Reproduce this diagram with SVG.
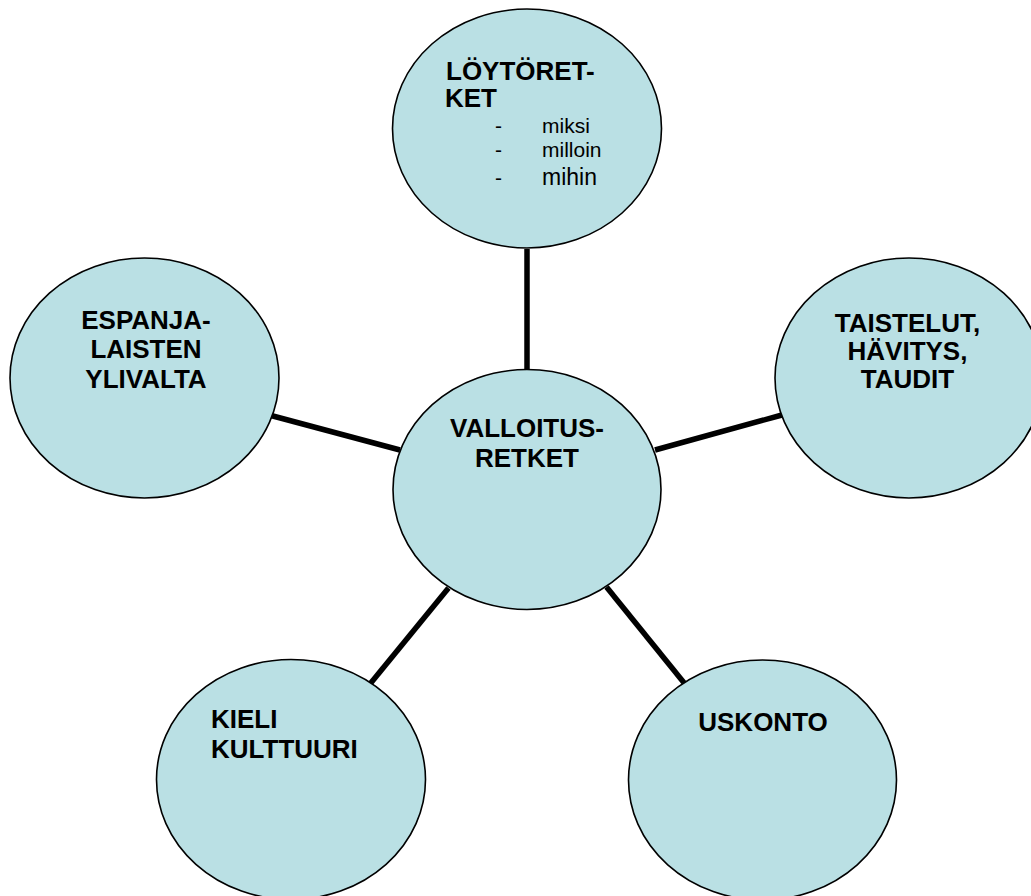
<svg xmlns="http://www.w3.org/2000/svg" width="1031" height="896" viewBox="0 0 1031 896">
<style>
.node{fill:#bae0e4;stroke:#000;stroke-width:1.6}
.conn{stroke:#000;stroke-width:5.5;fill:none}
.h{font-family:"Liberation Sans",Arial,sans-serif;font-weight:bold;font-size:26px;fill:#000}
.c{text-anchor:middle}
.s{font-family:"Liberation Sans",Arial,sans-serif;font-size:21px;fill:#000}
</style>
<rect width="1031" height="896" fill="#fff"/>
<g id="connectors">
<line class="conn" x1="527" y1="249" x2="527" y2="370"/>
<line class="conn" x1="271" y1="415.5" x2="400" y2="450"/>
<line class="conn" x1="655" y1="450" x2="782" y2="415"/>
<line class="conn" x1="448.5" y1="588" x2="370" y2="684"/>
<line class="conn" x1="606.5" y1="587" x2="685" y2="684"/>
</g>
<g id="node-loytoretket">
<ellipse class="node" cx="527" cy="128.5" rx="134.5" ry="119.5"/>
<text class="h" x="446" y="80">LÖYTÖRET-</text>
<text class="h" x="445" y="107">KET</text>
<text class="s" x="495" y="133">-</text>
<text class="s" x="542" y="133">miksi</text>
<text class="s" x="495" y="157">-</text>
<text class="s" x="542" y="157">milloin</text>
<text class="s" x="495" y="185">-</text>
<text class="s" x="542" y="185" style="font-size:23px">mihin</text>
</g>
<g id="node-espanjalaisten">
<ellipse class="node" cx="144.5" cy="378" rx="134.5" ry="120"/>
<text class="h c" x="146" y="329">ESPANJA-</text>
<text class="h c" x="146" y="358">LAISTEN</text>
<text class="h c" x="146" y="388">YLIVALTA</text>
</g>
<g id="node-taistelut">
<ellipse class="node" cx="909" cy="378" rx="134" ry="120"/>
<text class="h c" x="907.5" y="332">TAISTELUT,</text>
<text class="h c" x="907.5" y="360">HÄVITYS,</text>
<text class="h c" x="907.5" y="388">TAUDIT</text>
</g>
<g id="node-valloitusretket">
<ellipse class="node" cx="527" cy="489.5" rx="134" ry="120"/>
<text class="h c" x="527" y="437">VALLOITUS-</text>
<text class="h c" x="527" y="467">RETKET</text>
</g>
<g id="node-kieli">
<ellipse class="node" cx="291" cy="779.5" rx="134.5" ry="120"/>
<text class="h" x="211" y="728">KIELI</text>
<text class="h" x="211" y="758">KULTTUURI</text>
</g>
<g id="node-uskonto">
<ellipse class="node" cx="762.5" cy="780" rx="134" ry="120"/>
<text class="h c" x="763" y="731">USKONTO</text>
</g>
</svg>
